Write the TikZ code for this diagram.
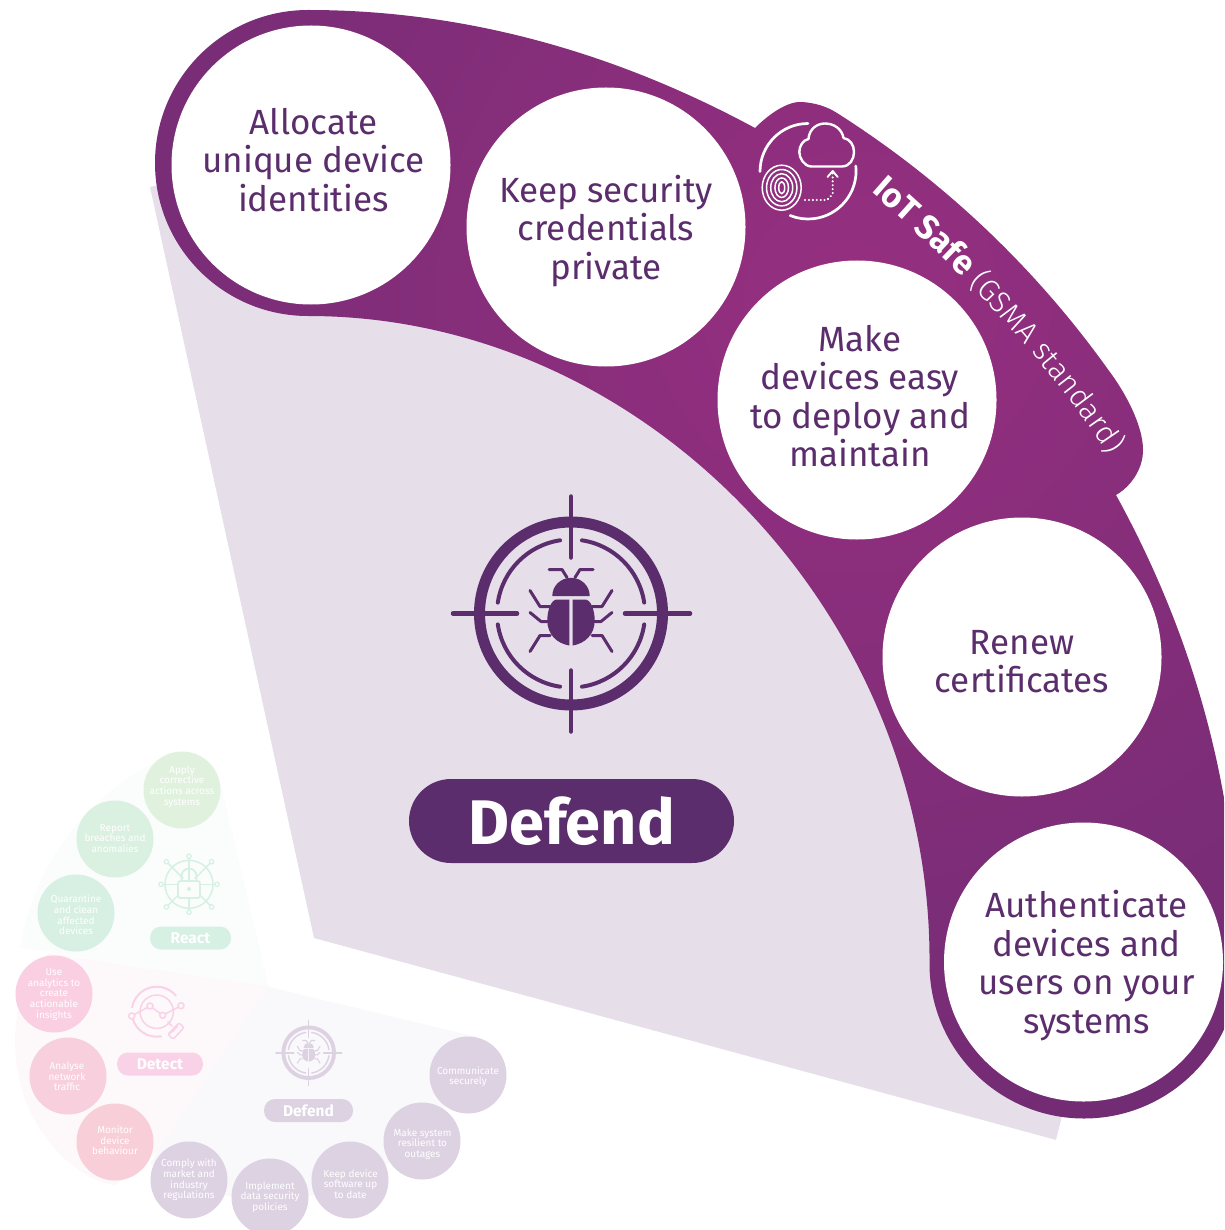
\documentclass[tikz,border=0pt]{standalone}
\usepackage{fontspec}
\setmainfont{Fira Sans}
\newfontfamily\lightfont{Fira Sans Light}
\usepackage{xcolor}
\usepackage{tikz}
\usetikzlibrary{calc, decorations.text}
\definecolor{plumdark}{HTML}{5B2D6C}
\definecolor{plumhi}{HTML}{962F80}
\definecolor{plumlo}{HTML}{702C73}
\definecolor{lilac}{HTML}{E6DFEA}
\definecolor{reactbg}{HTML}{FAFDFC}
\definecolor{detectbg}{HTML}{FDF8FA}
\definecolor{defendbg}{HTML}{F9F8FB}
\definecolor{reactcol}{HTML}{D6F0E4}
\definecolor{detectcol}{HTML}{F9D2E8}
\definecolor{defendcol}{HTML}{DDD2E2}
\definecolor{applycol}{HTML}{E0F2DE}
\definecolor{reportcol}{HTML}{DAF0E0}
\definecolor{quarcol}{HTML}{D7F0E3}
\definecolor{usecol}{HTML}{F9CFE1}
\definecolor{analysecol}{HTML}{F8CFDC}
\definecolor{monitorcol}{HTML}{F8CFD9}

\tikzset{
    pics/bugicon/.style n args={2}{code={
        \draw[color=#1, line width=#2*11pt] (0,0) circle (91.5);
        \foreach \a in {0,90,180,270}
            \draw[color=#1, line cap=round, line width=#2*4pt] (\a+8.5:74) arc[start angle=\a+8.5, end angle=\a+81.5, radius=74];
        \draw[color=#1, line cap=round, line width=#2*4.5pt] (0,-117) -- (0,-56) (0,57) -- (0,118) (-118,0) -- (-54,0) (54,0) -- (119,0);
        \foreach \sx in {-1,1} {
            \begin{scope}[xscale=\sx]
                \fill[#1] (1.7,-14) -- (14,-14) .. controls (20,-14) and (23.7,-3) .. (23.7,7) .. controls (23.7,21) and (14,30) .. (1.7,32) -- cycle;
                \fill[#1] (0,-17.5) -- (18.7,-17.5) .. controls (18.7,-28) and (10,-35.7) .. (0,-35.7) -- cycle;
                \draw[color=#1, line cap=round, line join=round, line width=#2*3pt] (4,-36) -- (9,-44) -- (22,-44);
                \draw[color=#1, line cap=round, line join=round, line width=#2*3pt] (21,-7) -- (31,-7) -- (41,-23);
                \draw[color=#1, line cap=round, line join=round, line width=#2*3pt] (22,8) -- (30,8) -- (41,-1);
                \draw[color=#1, line cap=round, line join=round, line width=#2*3pt] (21,22) -- (31,22) -- (41,38);
            \end{scope}
        }
    }}
}

\begin{document}
\begin{tikzpicture}[x=1pt, y=-1pt,
        whitecirc/.style = {circle, fill=white, minimum size=279pt, inner sep=0pt},
        circtext/.style = {inner sep=0pt, text=plumdark, align=center, font=\fontsize{35}{38.5}\selectfont},
        minicirc/.style = {circle, minimum size=77pt, inner sep=0pt},
        minitext/.style = {inner sep=0pt, text=white, align=center, font=\fontsize{10}{10.6}\selectfont},
        minipill/.style = {rounded corners=11pt, inner sep=0pt, minimum height=23pt, text=white, font=\bfseries\fontsize{15.5}{16}\selectfont},
        iconline/.style = {white, line cap=round, line join=round},
        reactline/.style = {reactcol, line width=1.5pt},
        detectline/.style = {detectcol, line width=1.5pt, line cap=round}]
    \useasboundingbox (0,0) rectangle (1224,1230);
    \clip (0,0) rectangle (1224,1230);
    \coordinate (apex) at (314,938);
    \coordinate (miniapex) at (269,987);

    % faded wedges
    \fill[reactbg] (miniapex) -- ($(miniapex)+(189:252)$) arc[start angle=189, end angle=245, radius=252] -- (221,785) -- cycle;
    \fill[detectbg] (miniapex) -- (48,953) .. controls (15,985) and (8,1040) .. (22,1090) .. controls (35,1135) and (75,1180) .. (115,1185) -- (160,1150) -- cycle;
    \fill[defendbg] (miniapex) -- ($(miniapex)+(13.5:213)$) arc[start angle=13.5, end angle=124, radius=213] -- cycle;

    % main wedge
    \fill[lilac] (apex) -- (150,187) arc[start angle=-102.3, end angle=15.2, radius=769] -- cycle;

    % purple band
    \begin{scope}
        \clip (308,10) .. controls (470,10) and (620,55) .. (755,128)
            .. controls (772,111) and (790,101) .. (802,102)
            .. controls (815,103) and (826,106) .. (837,113)
            arc[start angle=-57.6, end angle=-35.5, radius=976]
            .. controls (1125,392) and (1143,425) .. (1143,450)
            .. controls (1143,470) and (1130,487) .. (1116,495)
            .. controls (1193,635) and (1238.5,792) .. (1238.5,964)
            arc[start angle=0, end angle=180, radius=154.5]
            .. controls (932,620) and (650,316) .. (308,316)
            arc[start angle=90, end angle=270, radius=153] -- cycle;
        \shade[inner color=plumhi, outer color=plumlo] (850,300) circle (900);
    \end{scope}

    % big circles
    \node[whitecirc] (alloc) at (311,165) {};
    \node[whitecirc] (keep) at (606,227) {};
    \node[whitecirc] (make) at (857,400) {};
    \node[whitecirc] (renew) at (1022,657) {};
    \node[whitecirc] (auth) at (1083.5,962) {};
    \node[circtext] (alloctext) at (313.5,160) {Allocate\\unique device\\identities};
    \node[circtext] (keeptext) at (606,231) {Keep security\\credentials\\private};
    \node[circtext] (maketext) at (860,396) {Make\\devices easy\\to deploy and\\maintain};
    \node[circtext] (renewtext) at (1022,661.5) {Renew\\certificates};
    \node[circtext] (authtext) at (1086.5,965.5) {Authenticate\\devices and\\users on your\\systems};

    % curved title
    \path[decorate, decoration={text along path, text align=left, text color=white,
        text={|\bfseries\fontsize{34}{34}\selectfont|IoT Safe |\lightfont\fontsize{30}{30}\selectfont|(GSMA standard)}}]
        (871,192) .. controls (965,274) and (1045,357) .. (1113,462) -- (1135,496);

    % cloud icon
    \draw[iconline, line width=2.7pt] (808,123.5) arc[start angle=-90, end angle=-180, radius=48];
    \draw[iconline, line width=2.7pt] (855.8,166) arc[start angle=-6, end angle=112, radius=48];
    \draw[iconline, line width=2.4pt] (811.7,166.5) -- (841.7,166.5) .. controls (850,166.5) and (854,159) .. (854,152)
        .. controls (854,145) and (850,139) .. (843.5,138) .. controls (842,129) and (834,123.5) .. (825,123.5)
        .. controls (816,123.5) and (809,130) .. (808.5,139) .. controls (803,140) and (799.3,146) .. (799.3,152)
        .. controls (799.3,158) and (804,166.5) .. (811.7,166.5);
    \draw[iconline, line width=2.2pt, dash pattern=on 0.1pt off 3.8pt] (805,200) -- (827,200) -- (832.7,194) -- (832.7,173);
    \draw[iconline, line width=1.9pt] (827.5,177) -- (832.7,171) -- (837.7,177);
    \foreach \r in {19.5,15.2,11,6.8,3}
        \draw[iconline, line width=1.5pt] (781.7,187.7) ellipse ({\r} and {\r+3});

    % defend icon and pill
    \pic at (571,613.5) {bugicon={plumdark}{1}};
    \node[fill=plumdark, rounded corners=42pt, minimum width=325pt, minimum height=84pt, inner sep=0pt, text=white, font=\bfseries\fontsize{63}{63}\selectfont] (defend) at (571.5,821) {\raisebox{1.5pt}{Defend}};

    % small react part
    \node[minicirc, fill=applycol] (apply) at (182,790) {};
    \node[minicirc, fill=reportcol] (report) at (115,839) {};
    \node[minicirc, fill=quarcol] (quarantine) at (76,913) {};
    \node[minitext] (applytext) at (182,786.5) {Apply\\corrective\\actions across\\systems};
    \node[minitext] (reporttext) at (115,838.5) {Report\\breaches and\\anomalies};
    \node[minitext] (quartext) at (76,915) {Quarantine\\and clean\\affected\\devices};
    \node[minipill, fill=reactcol, minimum width=81pt] (react) at (190.5,938) {React};
    \draw[reactline] (189,884.3) circle (24);
    \foreach \a in {0,90,180,270} {
        \draw[reactline] ($(189,884.3)+(\a:3)$) -- ($(189,884.3)+(\a:26)$);
        \draw[reactline, line width=1.2pt] ($(189,884.3)+(\a:28)$) circle (2.2);
        \draw[reactline] ($(189,884.3)+(\a+45:8)$) -- ($(189,884.3)+(\a+45:30)$);
        \draw[reactline, line width=1.2pt] ($(189,884.3)+(\a+45:32)$) circle (2.2);
    }
    \draw[reactcol, fill=reactbg, line width=1.8pt, rounded corners=2.5pt] (178,881) rectangle (200,898);
    \draw[reactcol, line width=1.8pt] (181.5,881) -- (181.5,876) arc[start angle=180, end angle=360, radius=7.5] -- (196.5,881);
    \fill[reactcol] (189,889) circle (2);

    % small detect part
    \node[minicirc, fill=usecol] (use) at (54,994) {};
    \node[minicirc, fill=analysecol] (analyse) at (68,1076) {};
    \node[minicirc, fill=monitorcol] (monitor) at (115,1142) {};
    \node[minitext] (usetext) at (54,994.5) {Use\\analytics to\\create\\actionable\\insights};
    \node[minitext] (analysetext) at (67,1076.5) {Analyse\\network\\traffic};
    \node[minitext] (monitortext) at (115,1140.5) {Monitor\\device\\behaviour};
    \node[minipill, fill=detectcol, minimum width=86pt] (detect) at (160,1064) {Detect};
    \draw[detectline] (156.7,1011.7) circle (16.7);
    \draw[detectline, line width=2pt] ($(156.7,1011.7)+(-170:25)$) arc[start angle=-170, end angle=-40, radius=25];
    \draw[detectline, line width=2pt] ($(156.7,1011.7)+(35:25)$) arc[start angle=35, end angle=60, radius=25];
    \draw[detectline, line width=2pt] ($(156.7,1011.7)+(80:25)$) arc[start angle=80, end angle=165, radius=25];
    \draw[detectline] (131.7,1016) -- (150,1006) -- (162.7,1015.3) -- (181,1005.7);
    \foreach \p in {(131.7,1016),(150,1006),(162.7,1015.3),(181,1005.7)}
        \draw[detectcol, fill=detectbg, line width=1.5pt] \p circle (3);
    \draw[detectline] (168,1022) -- (172,1026);
    \draw[detectline, rounded corners=2pt, rotate around={47:(176,1031)}] (168,1027.5) rectangle (184,1034.5);

    % small defend part
    \node[minicirc, fill=defendcol] (comply) at (189,1180) {};
    \node[minicirc, fill=defendcol] (implement) at (270,1197) {};
    \node[minicirc, fill=defendcol] (keepsw) at (350,1180) {};
    \node[minicirc, fill=defendcol] (resilient) at (422,1141) {};
    \node[minicirc, fill=defendcol] (commun) at (468,1075) {};
    \node[minitext] (complytext) at (189,1180) {Comply with\\market and\\industry\\regulations};
    \node[minitext] (impltext) at (270,1197) {Implement\\data security\\policies};
    \node[minitext] (keepswtext) at (350.5,1184) {Keep device\\software up\\to date};
    \node[minitext] (resilienttext) at (422.5,1144) {Make system\\resilient to\\outages};
    \node[minitext] (commtext) at (468,1076.5) {Communicate\\securely};
    \node[minipill, fill=defendcol, minimum width=89pt] (minidefend) at (308.5,1110.5) {Defend};
    \pic[scale=0.277] at (308.7,1052.7) {bugicon={defendcol}{0.35}};
\end{tikzpicture}
\end{document}
